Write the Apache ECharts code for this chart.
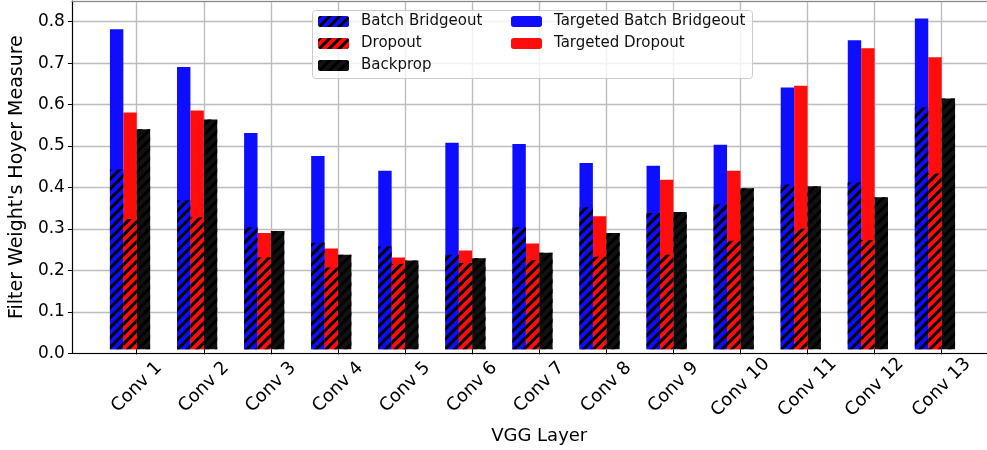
<!DOCTYPE html>
<html>
<head>
<meta charset="utf-8">
<script src="https://cdn.jsdelivr.net/npm/echarts@6/dist/echarts.min.js"></script>
<style>
  html, body { margin: 0; padding: 0; background: #fff; }
  #chart { width: 987px; height: 450px; }
</style>
</head>
<body>
<div id="chart"></div>
<script>
// VGG layers
const layers = ["Conv 1", "Conv 2", "Conv 3", "Conv 4", "Conv 5", "Conv 6", "Conv 7",
  "Conv 8", "Conv 9", "Conv 10", "Conv 11", "Conv 12", "Conv 13"];

// Hoyer measure
const targetedBridgeout = [0.781, 0.689, 0.528, 0.472, 0.436, 0.504, 0.501, 0.455, 0.448, 0.499, 0.639, 0.754, 0.807];
const batchBridgeout = [0.439, 0.364, 0.298, 0.260, 0.251, 0.231, 0.298, 0.347, 0.333, 0.354, 0.402, 0.407, 0.590];
const targetedDropout = [0.578, 0.583, 0.284, 0.246, 0.224, 0.241, 0.258, 0.325, 0.414, 0.436, 0.643, 0.735, 0.713];
const dropout = [0.318, 0.322, 0.224, 0.200, 0.208, 0.211, 0.218, 0.226, 0.231, 0.265, 0.294, 0.267, 0.429];
const backprop = [0.537, 0.561, 0.289, 0.231, 0.217, 0.222, 0.236, 0.284, 0.335, 0.393, 0.398, 0.371, 0.612];

const yTicks = [0, 0.1, 0.2, 0.3, 0.4, 0.5, 0.6, 0.7, 0.8];

const FONT = "DejaVu Sans";
const BW = 13.4;
const blue = "#0d0dff", red = "#ff0d0d", black = "#111111";

// "///" hatch
const hatch = {
  symbol: "rect",
  symbolSize: 1,
  color: "#000",
  dashArrayX: [1, 0],
  dashArrayY: [2.4, 3.5],
  rotation: -Math.PI / 4
};

let myChart = echarts.init(document.getElementById("chart"));

function bar(name, data, color, axis, decal) {
  return {
    name: name,
    type: "bar",
    xAxisIndex: axis,
    yAxisIndex: 0,
    data: data,
    barWidth: BW,
    barGap: "0%",
    itemStyle: decal ? { color: color, decal: hatch } : { color: color },
    emphasis: { disabled: true }
  };
}
// empty slots so the three visible bars sit left of the tick like the original
function slot(axis) {
  return { type: "bar", xAxisIndex: axis, yAxisIndex: 0, data: [], barWidth: BW, barGap: "0%" };
}

myChart.setOption({
  animation: false,
  textStyle: { fontFamily: FONT },
  grid: [
    { left: 103.2, right: 11.8, top: 1, bottom: 96.7 },
    { left: 68, right: -2, top: 1, bottom: 96.7 }
  ],
  graphic: [{
    type: "rect",
    z: 3,
    shape: { x: 312.5, y: 10.5, width: 440, height: 68, r: 3 },
    style: { fill: "rgba(255,255,255,0.8)", stroke: "#cccccc", lineWidth: 1 }
  }],
  legend: [
    {
      left: 318, top: 12.5, orient: "vertical", padding: 0,
      itemWidth: 31, itemHeight: 11, itemGap: 4,
      data: ["Batch Bridgeout", "Dropout", "Backprop"],
      textStyle: { fontFamily: FONT, fontSize: 15, color: "#111", lineHeight: 18, padding: [0, 0, 0, 7] }
    },
    {
      left: 511, top: 12.5, orient: "vertical", padding: 0,
      itemWidth: 31, itemHeight: 11, itemGap: 4,
      data: ["Targeted Batch Bridgeout", "Targeted Dropout"],
      textStyle: { fontFamily: FONT, fontSize: 15, color: "#111", lineHeight: 18, padding: [0, 0, 0, 7] }
    }
  ],
  xAxis: [
    {
      type: "category", gridIndex: 0, position: "bottom", data: layers,
      axisLine: { show: false },
      axisTick: { show: true, alignWithLabel: true, length: 5, lineStyle: { color: "#000" } },
      splitLine: { show: true, alignWithLabel: true, lineStyle: { color: "#bdbdbd", width: 1.4 } },
      axisLabel: {
        rotate: 45, align: "center", verticalAlign: "middle", margin: 38,
        fontFamily: FONT, fontSize: 18, color: "#000", interval: 0
      },
      name: "VGG Layer", nameLocation: "middle", nameGap: 75,
      nameTextStyle: { fontFamily: FONT, fontSize: 18, color: "#000" }
    },
    { type: "category", gridIndex: 0, data: layers, show: false },
    {
      type: "value", gridIndex: 1, position: "bottom", min: 0, max: 1,
      axisLine: { show: true, onZero: false, lineStyle: { color: "#000", width: 1.2 } },
      axisTick: { show: false }, axisLabel: { show: false }, splitLine: { show: false }
    },
    {
      type: "value", gridIndex: 1, position: "top", min: 0, max: 1,
      axisLine: { show: true, onZero: false, lineStyle: { color: "#888", width: 1.2 } },
      axisTick: { show: false }, axisLabel: { show: false }, splitLine: { show: false }
    }
  ],
  yAxis: [
    { type: "value", gridIndex: 0, min: 0, max: 0.85, show: false },
    {
      type: "value", gridIndex: 1, min: 0, max: 0.85, interval: 0.1,
      axisLine: { show: true, lineStyle: { color: "#000", width: 1.2 } },
      axisTick: { show: true, length: 4, lineStyle: { color: "#000" } },
      splitLine: { show: true, lineStyle: { color: "#bdbdbd", width: 1.4 } },
      axisLabel: {
        fontFamily: FONT, fontSize: 17, color: "#000", margin: 7, showMaxLabel: false,
        formatter: function (v) { return yTicks.indexOf(Math.round(v * 10) / 10) >= 0 && v < 0.84 ? v.toFixed(1) : ""; }
      },
      name: "Filter Weight's Hoyer Measure", nameLocation: "middle", nameGap: 38,
      nameTextStyle: { fontFamily: FONT, fontSize: 19, color: "#000" }
    }
  ],
  series: [
    bar("Targeted Batch Bridgeout", targetedBridgeout, blue, 0, false),
    bar("Targeted Dropout", targetedDropout, red, 0, false),
    bar("Backprop", backprop, black, 0, true),
    slot(0),
    bar("Batch Bridgeout", batchBridgeout, blue, 1, true),
    bar("Dropout", dropout, red, 1, true),
    slot(1),
    slot(1)
  ]
});
</script>
</body>
</html>
